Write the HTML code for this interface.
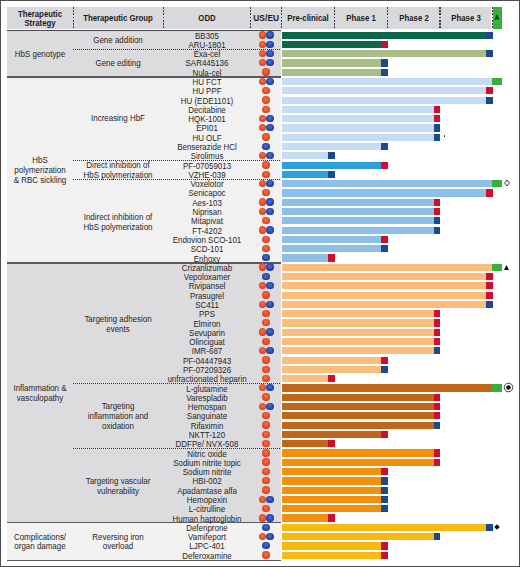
<!DOCTYPE html><html><head><meta charset="utf-8"><style>
*{margin:0;padding:0;box-sizing:border-box}
html,body{width:520px;height:567px;background:#fff;overflow:hidden}
body{position:relative;font-family:"Liberation Sans",sans-serif;color:#262626}
.t:not(.h){transform:scaleX(0.95)}
.a{position:absolute}
.t{position:absolute;white-space:nowrap;text-align:center;line-height:1}
.h{font-weight:bold;color:#1a1a1a;transform:scaleX(0.93)}
.dv{position:absolute;width:1.2px;background:repeating-linear-gradient(to bottom,#3a3a3a 0 1.7px,transparent 1.7px 3.25px)}
.dh{position:absolute;height:1.2px;background:repeating-linear-gradient(to right,#333 0 1px,transparent 1px 2px)}
.dot{position:absolute;width:7.3px;height:7.3px;border-radius:50%}
.R{background:radial-gradient(circle at 48% 42%,#f87048 0%,#ee5428 40%,#d83c1c 70%,#a82412 100%)}
.B{background:radial-gradient(circle at 48% 42%,#5070d0 0%,#3050b4 40%,#22389a 70%,#141c62 100%)}

</style></head><body>
<div class="a" style="left:0;top:0;width:520px;height:567px;border:1px solid #4d4d4d"></div>
<div class="a" style="left:7px;top:7px;width:484.4px;height:21.8px;background:#d9d8dc"></div>
<div class="a" style="left:492.5px;top:7px;width:9.800000000000011px;height:21.5px;background:#37b33a"></div>
<div class="dv" style="left:72.85px;top:7.1px;height:21.3px"></div>
<div class="dv" style="left:162.75px;top:7.1px;height:21.3px"></div>
<div class="dv" style="left:250.15px;top:7.1px;height:21.3px"></div>
<div class="dv" style="left:280.85px;top:7.1px;height:21.3px"></div>
<div class="dv" style="left:333.85px;top:7.1px;height:21.3px"></div>
<div class="dv" style="left:386.85px;top:7.1px;height:21.3px"></div>
<div class="dv" style="left:439.35px;top:7.1px;height:21.3px"></div>
<div class="dv" style="left:491.85px;top:7.1px;height:21.3px"></div>
<div class="t h" style="left:-59.6px;top:9.8px;width:200px;font-size:8.4px;">Therapeutic</div>
<div class="t h" style="left:-59.6px;top:18.900000000000002px;width:200px;font-size:8.4px;">Strategy</div>
<div class="t h" style="left:18.400000000000006px;top:14.100000000000001px;width:200px;font-size:8.4px;">Therapeutic Group</div>
<div class="t h" style="left:107.0px;top:14.100000000000001px;width:200px;font-size:8.4px;">ODD</div>
<div class="t h" style="left:166.2px;top:14.100000000000001px;width:200px;font-size:8.4px;transform:none;letter-spacing:0.1px">US/EU</div>
<div class="t h" style="left:208.0px;top:14.100000000000001px;width:200px;font-size:8.4px;">Pre-clinical</div>
<div class="t h" style="left:261.0px;top:14.100000000000001px;width:200px;font-size:8.4px;">Phase 1</div>
<div class="t h" style="left:313.8px;top:14.100000000000001px;width:200px;font-size:8.4px;">Phase 2</div>
<div class="t h" style="left:366.3px;top:14.100000000000001px;width:200px;font-size:8.4px;">Phase 3</div>
<div class="t h" style="left:397.2px;top:13.700000000000001px;width:200px;font-size:7.8px;transform:scaleX(0.85);color:#102a10">A</div>
<div class="a" style="left:7px;top:29.8px;width:274px;height:1.5px;background:#4a4a4a"></div>
<div class="a" style="left:7px;top:31.3px;width:274px;height:45.0px;background:#dcdbde"></div>
<div class="a" style="left:7px;top:77.6px;width:274px;height:184.29999999999998px;background:#f1f1f2"></div>
<div class="a" style="left:7px;top:263.4px;width:274px;height:258.6px;background:#dcdbde"></div>
<div class="a" style="left:7px;top:523.4px;width:274px;height:36.200000000000045px;background:#f2f2f2"></div>
<div class="a" style="left:7px;top:76.2px;width:274px;height:1.5px;background:#5a595c"></div>
<div class="a" style="left:7px;top:262.0px;width:274px;height:1.5px;background:#5a595c"></div>
<div class="a" style="left:7px;top:521.9px;width:274px;height:1.5px;background:#5a595c"></div>
<div class="a" style="left:7px;top:559.5px;width:274px;height:1.5px;background:#5a595c"></div>
<div class="dh" style="left:73px;top:48.9px;width:208px"></div>
<div class="dh" style="left:73px;top:159.8px;width:208px"></div>
<div class="dh" style="left:73px;top:178.6px;width:208px"></div>
<div class="dh" style="left:73px;top:383.29999999999995px;width:208px"></div>
<div class="dh" style="left:73px;top:448.29999999999995px;width:208px"></div>
<div class="t " style="left:-60.0px;top:50.0px;width:200px;font-size:8.4px;">HbS genotype</div>
<div class="t " style="left:-60.0px;top:156.4px;width:200px;font-size:8.4px;">HbS</div>
<div class="t " style="left:-60.0px;top:166.20000000000002px;width:200px;font-size:8.4px;">polymerization</div>
<div class="t " style="left:-60.0px;top:176.20000000000002px;width:200px;font-size:8.4px;">&amp; RBC sickling</div>
<div class="t " style="left:-60.0px;top:384.0px;width:200px;font-size:8.4px;">Inflammation &amp;</div>
<div class="t " style="left:-60.0px;top:393.8px;width:200px;font-size:8.4px;">vasculopathy</div>
<div class="t " style="left:-60.0px;top:532.5px;width:200px;font-size:8.4px;">Complications/</div>
<div class="t " style="left:-60.0px;top:542.3px;width:200px;font-size:8.4px;">organ damage</div>
<div class="t " style="left:18.400000000000006px;top:35.8px;width:200px;font-size:8.4px;">Gene addition</div>
<div class="t " style="left:18.400000000000006px;top:58.9px;width:200px;font-size:8.4px;">Gene editing</div>
<div class="t " style="left:18.400000000000006px;top:114.2px;width:200px;font-size:8.4px;">Increasing HbF</div>
<div class="t " style="left:18.400000000000006px;top:160.9px;width:200px;font-size:8.4px;">Direct inhibition of</div>
<div class="t " style="left:18.400000000000006px;top:170.9px;width:200px;font-size:8.4px;">HbS polymerization</div>
<div class="t " style="left:18.400000000000006px;top:212.8px;width:200px;font-size:8.4px;">Indirect inhibition of</div>
<div class="t " style="left:18.400000000000006px;top:222.8px;width:200px;font-size:8.4px;">HbS polymerization</div>
<div class="t " style="left:18.400000000000006px;top:314.8px;width:200px;font-size:8.4px;">Targeting adhesion</div>
<div class="t " style="left:18.400000000000006px;top:324.5px;width:200px;font-size:8.4px;">events</div>
<div class="t " style="left:18.400000000000006px;top:402.3px;width:200px;font-size:8.4px;">Targeting</div>
<div class="t " style="left:18.400000000000006px;top:412.0px;width:200px;font-size:8.4px;">inflammation and</div>
<div class="t " style="left:18.400000000000006px;top:421.7px;width:200px;font-size:8.4px;">oxidation</div>
<div class="t " style="left:18.400000000000006px;top:476.8px;width:200px;font-size:8.4px;">Targeting vascular</div>
<div class="t " style="left:18.400000000000006px;top:486.5px;width:200px;font-size:8.4px;">vulnerability</div>
<div class="t " style="left:18.400000000000006px;top:532.5px;width:200px;font-size:8.4px;">Reversing iron</div>
<div class="t " style="left:18.400000000000006px;top:542.3px;width:200px;font-size:8.4px;">overload</div>
<div class="t " style="left:107.0px;top:31.600000000000005px;width:200px;font-size:8.4px;">BB305</div>
<div class="dot R" style="left:258.55px;top:31.250000000000004px"></div>
<div class="dot B" style="left:266.35px;top:31.250000000000004px"></div>
<div class="a" style="left:282.0px;top:31.5px;width:204.15000000000003px;height:7.2px;background:#0b684b"></div>
<div class="a" style="left:486.40000000000003px;top:31.5px;width:6.399999999999977px;height:7.2px;background:#1a4a8c"></div>
<div class="t " style="left:107.0px;top:40.888px;width:200px;font-size:8.4px;">ARU-1801</div>
<div class="dot R" style="left:258.55px;top:40.538px"></div>
<div class="dot B" style="left:266.35px;top:40.538px"></div>
<div class="a" style="left:282.0px;top:40.788px;width:98.95000000000005px;height:7.2px;background:#0b684b"></div>
<div class="a" style="left:381.20000000000005px;top:40.788px;width:6.399999999999977px;height:7.2px;background:#d20c2c"></div>
<div class="t " style="left:107.0px;top:50.176px;width:200px;font-size:8.4px;">Exa-cel</div>
<div class="dot R" style="left:258.55px;top:49.826px"></div>
<div class="dot B" style="left:266.35px;top:49.826px"></div>
<div class="a" style="left:282.0px;top:50.076px;width:204.15000000000003px;height:7.2px;background:#a9bb86"></div>
<div class="a" style="left:486.40000000000003px;top:50.076px;width:6.399999999999977px;height:7.2px;background:#1a4a8c"></div>
<div class="t " style="left:107.0px;top:59.464000000000006px;width:200px;font-size:8.4px;">SAR445136</div>
<div class="dot R" style="left:258.55px;top:59.114000000000004px"></div>
<div class="dot B" style="left:266.35px;top:59.114000000000004px"></div>
<div class="a" style="left:282.0px;top:59.364000000000004px;width:98.95000000000005px;height:7.2px;background:#a9bb86"></div>
<div class="a" style="left:381.20000000000005px;top:59.364000000000004px;width:6.399999999999977px;height:7.2px;background:#1a4a8c"></div>
<div class="t " style="left:107.0px;top:68.752px;width:200px;font-size:8.4px;">Nula-cel</div>
<div class="dot R" style="left:262.25px;top:68.40199999999999px"></div>
<div class="a" style="left:282.0px;top:68.652px;width:98.95000000000005px;height:7.2px;background:#a9bb86"></div>
<div class="a" style="left:381.20000000000005px;top:68.652px;width:6.399999999999977px;height:7.2px;background:#1a4a8c"></div>
<div class="t " style="left:107.0px;top:78.03999999999999px;width:200px;font-size:8.4px;">HU FCT</div>
<div class="dot R" style="left:258.55px;top:77.68999999999998px"></div>
<div class="dot B" style="left:266.35px;top:77.68999999999998px"></div>
<div class="a" style="left:282.0px;top:77.94px;width:209.8px;height:7.2px;background:#c5dcf2"></div>
<div class="a" style="left:492.4px;top:77.94px;width:9.900000000000034px;height:7.2px;background:#3aae3a"></div>
<div class="t " style="left:107.0px;top:87.328px;width:200px;font-size:8.4px;">HU PPF</div>
<div class="dot R" style="left:262.25px;top:86.978px"></div>
<div class="a" style="left:282.0px;top:87.22800000000001px;width:204.15000000000003px;height:7.2px;background:#c5dcf2"></div>
<div class="a" style="left:486.40000000000003px;top:87.22800000000001px;width:6.399999999999977px;height:7.2px;background:#d20c2c"></div>
<div class="t " style="left:107.0px;top:96.616px;width:200px;font-size:8.4px;">HU (EDE1101)</div>
<div class="dot R" style="left:262.25px;top:96.26599999999999px"></div>
<div class="a" style="left:282.0px;top:96.516px;width:204.15000000000003px;height:7.2px;background:#c5dcf2"></div>
<div class="a" style="left:486.40000000000003px;top:96.516px;width:6.399999999999977px;height:7.2px;background:#1a4a8c"></div>
<div class="t " style="left:107.0px;top:105.904px;width:200px;font-size:8.4px;">Decitabine</div>
<div class="dot R" style="left:262.25px;top:105.55399999999999px"></div>
<div class="a" style="left:282.0px;top:105.804px;width:151.55px;height:7.2px;background:#c5dcf2"></div>
<div class="a" style="left:433.8px;top:105.804px;width:6.399999999999977px;height:7.2px;background:#d20c2c"></div>
<div class="t " style="left:107.0px;top:115.192px;width:200px;font-size:8.4px;">HQK-1001</div>
<div class="dot R" style="left:258.55px;top:114.84199999999998px"></div>
<div class="dot B" style="left:266.35px;top:114.84199999999998px"></div>
<div class="a" style="left:282.0px;top:115.092px;width:151.55px;height:7.2px;background:#c5dcf2"></div>
<div class="a" style="left:433.8px;top:115.092px;width:6.399999999999977px;height:7.2px;background:#d20c2c"></div>
<div class="t " style="left:107.0px;top:124.47999999999998px;width:200px;font-size:8.4px;">EPI01</div>
<div class="dot R" style="left:258.55px;top:124.12999999999998px"></div>
<div class="dot B" style="left:266.35px;top:124.12999999999998px"></div>
<div class="a" style="left:282.0px;top:124.38px;width:151.55px;height:7.2px;background:#c5dcf2"></div>
<div class="a" style="left:433.8px;top:124.38px;width:6.399999999999977px;height:7.2px;background:#1a4a8c"></div>
<div class="t " style="left:107.0px;top:133.768px;width:200px;font-size:8.4px;">HU OLF</div>
<div class="dot R" style="left:262.25px;top:133.418px"></div>
<div class="a" style="left:282.0px;top:133.668px;width:151.55px;height:7.2px;background:#c5dcf2"></div>
<div class="a" style="left:433.8px;top:133.668px;width:6.399999999999977px;height:7.2px;background:#1a4a8c"></div>
<div class="a" style="left:443.70000000000005px;top:135.268px;width:1.8px;height:1.8px;border-radius:50%;background:#222"></div>
<div class="t " style="left:107.0px;top:143.056px;width:200px;font-size:8.4px;">Benserazide HCl</div>
<div class="dot B" style="left:262.25px;top:142.70600000000002px"></div>
<div class="a" style="left:282.0px;top:142.95600000000002px;width:98.95000000000005px;height:7.2px;background:#c5dcf2"></div>
<div class="a" style="left:381.20000000000005px;top:142.95600000000002px;width:6.399999999999977px;height:7.2px;background:#1a4a8c"></div>
<div class="t " style="left:107.0px;top:152.344px;width:200px;font-size:8.4px;">Sirolimus</div>
<div class="dot R" style="left:258.55px;top:151.994px"></div>
<div class="dot B" style="left:266.35px;top:151.994px"></div>
<div class="a" style="left:282.0px;top:152.244px;width:45.950000000000045px;height:7.2px;background:#c5dcf2"></div>
<div class="a" style="left:328.20000000000005px;top:152.244px;width:6.399999999999977px;height:7.2px;background:#1a4a8c"></div>
<div class="t " style="left:107.0px;top:161.632px;width:200px;font-size:8.4px;">PF-07059013</div>
<div class="dot R" style="left:262.25px;top:161.282px"></div>
<div class="a" style="left:282.0px;top:161.532px;width:98.95000000000005px;height:7.2px;background:#2f9fdc"></div>
<div class="a" style="left:381.20000000000005px;top:161.532px;width:6.399999999999977px;height:7.2px;background:#d20c2c"></div>
<div class="t " style="left:107.0px;top:170.92px;width:200px;font-size:8.4px;">VZHE-039</div>
<div class="dot R" style="left:262.25px;top:170.57px"></div>
<div class="a" style="left:282.0px;top:170.82px;width:45.950000000000045px;height:7.2px;background:#2f9fdc"></div>
<div class="a" style="left:328.20000000000005px;top:170.82px;width:6.399999999999977px;height:7.2px;background:#1a4a8c"></div>
<div class="t " style="left:107.0px;top:180.208px;width:200px;font-size:8.4px;">Voxelotor</div>
<div class="dot R" style="left:258.55px;top:179.858px"></div>
<div class="dot B" style="left:266.35px;top:179.858px"></div>
<div class="a" style="left:282.0px;top:180.108px;width:209.8px;height:7.2px;background:#8cc0e9"></div>
<div class="a" style="left:492.4px;top:180.108px;width:9.900000000000034px;height:7.2px;background:#3aae3a"></div>
<svg class="a" style="left:503.4px;top:179.008px" width="8" height="8" viewBox="0 0 8 8"><path d="M4 1 L6.3 4 L4 7 L1.7 4 Z" fill="none" stroke="#222" stroke-width="0.9"/></svg>
<div class="t " style="left:107.0px;top:189.496px;width:200px;font-size:8.4px;">Senicapoc</div>
<div class="dot R" style="left:262.25px;top:189.14600000000002px"></div>
<div class="a" style="left:282.0px;top:189.39600000000002px;width:204.15000000000003px;height:7.2px;background:#8cc0e9"></div>
<div class="a" style="left:486.40000000000003px;top:189.39600000000002px;width:6.399999999999977px;height:7.2px;background:#d20c2c"></div>
<div class="t " style="left:107.0px;top:198.784px;width:200px;font-size:8.4px;">Aes-103</div>
<div class="dot R" style="left:258.55px;top:198.434px"></div>
<div class="dot B" style="left:266.35px;top:198.434px"></div>
<div class="a" style="left:282.0px;top:198.684px;width:151.55px;height:7.2px;background:#8cc0e9"></div>
<div class="a" style="left:433.8px;top:198.684px;width:6.399999999999977px;height:7.2px;background:#d20c2c"></div>
<div class="t " style="left:107.0px;top:208.072px;width:200px;font-size:8.4px;">Niprisan</div>
<div class="dot R" style="left:258.55px;top:207.722px"></div>
<div class="dot B" style="left:266.35px;top:207.722px"></div>
<div class="a" style="left:282.0px;top:207.972px;width:151.55px;height:7.2px;background:#8cc0e9"></div>
<div class="a" style="left:433.8px;top:207.972px;width:6.399999999999977px;height:7.2px;background:#d20c2c"></div>
<div class="t " style="left:107.0px;top:217.35999999999999px;width:200px;font-size:8.4px;">Mitapivat</div>
<div class="dot R" style="left:262.25px;top:217.01px"></div>
<div class="a" style="left:282.0px;top:217.26px;width:151.55px;height:7.2px;background:#8cc0e9"></div>
<div class="a" style="left:433.8px;top:217.26px;width:6.399999999999977px;height:7.2px;background:#1a4a8c"></div>
<div class="t " style="left:107.0px;top:226.648px;width:200px;font-size:8.4px;">FT-4202</div>
<div class="dot R" style="left:258.55px;top:226.298px"></div>
<div class="dot B" style="left:266.35px;top:226.298px"></div>
<div class="a" style="left:282.0px;top:226.548px;width:151.55px;height:7.2px;background:#8cc0e9"></div>
<div class="a" style="left:433.8px;top:226.548px;width:6.399999999999977px;height:7.2px;background:#1a4a8c"></div>
<div class="t " style="left:107.0px;top:235.936px;width:200px;font-size:8.4px;">Endovion SCO-101</div>
<div class="dot R" style="left:262.25px;top:235.586px"></div>
<div class="a" style="left:282.0px;top:235.836px;width:98.95000000000005px;height:7.2px;background:#8cc0e9"></div>
<div class="a" style="left:381.20000000000005px;top:235.836px;width:6.399999999999977px;height:7.2px;background:#d20c2c"></div>
<div class="t " style="left:107.0px;top:245.224px;width:200px;font-size:8.4px;">SCD-101</div>
<div class="dot R" style="left:262.25px;top:244.874px"></div>
<div class="a" style="left:282.0px;top:245.124px;width:98.95000000000005px;height:7.2px;background:#8cc0e9"></div>
<div class="a" style="left:381.20000000000005px;top:245.124px;width:6.399999999999977px;height:7.2px;background:#1a4a8c"></div>
<div class="t " style="left:107.0px;top:254.512px;width:200px;font-size:8.4px;">Enhoxy</div>
<div class="dot B" style="left:262.25px;top:254.162px"></div>
<div class="a" style="left:282.0px;top:254.412px;width:45.950000000000045px;height:7.2px;background:#8cc0e9"></div>
<div class="a" style="left:328.20000000000005px;top:254.412px;width:6.399999999999977px;height:7.2px;background:#d20c2c"></div>
<div class="t " style="left:107.0px;top:263.80000000000007px;width:200px;font-size:8.4px;">Crizanlizumab</div>
<div class="dot R" style="left:258.55px;top:263.4500000000001px"></div>
<div class="dot B" style="left:266.35px;top:263.4500000000001px"></div>
<div class="a" style="left:282.0px;top:263.70000000000005px;width:209.8px;height:7.2px;background:#f9bd7d"></div>
<div class="a" style="left:492.4px;top:263.70000000000005px;width:9.900000000000034px;height:7.2px;background:#3aae3a"></div>
<svg class="a" style="left:502.6px;top:263.6000000000001px" width="7" height="7" viewBox="0 0 7 7"><path d="M3.5 1 L6 6 L1 6 Z" fill="#111"/></svg>
<div class="t " style="left:107.0px;top:273.088px;width:200px;font-size:8.4px;">Vepoloxamer</div>
<div class="dot B" style="left:262.25px;top:272.73800000000006px"></div>
<div class="a" style="left:282.0px;top:272.988px;width:204.15000000000003px;height:7.2px;background:#f9bd7d"></div>
<div class="a" style="left:486.40000000000003px;top:272.988px;width:6.399999999999977px;height:7.2px;background:#d20c2c"></div>
<div class="t " style="left:107.0px;top:282.37600000000003px;width:200px;font-size:8.4px;">Rivipansel</div>
<div class="dot R" style="left:258.55px;top:282.02600000000007px"></div>
<div class="dot B" style="left:266.35px;top:282.02600000000007px"></div>
<div class="a" style="left:282.0px;top:282.276px;width:204.15000000000003px;height:7.2px;background:#f9bd7d"></div>
<div class="a" style="left:486.40000000000003px;top:282.276px;width:6.399999999999977px;height:7.2px;background:#d20c2c"></div>
<div class="t " style="left:107.0px;top:291.66400000000004px;width:200px;font-size:8.4px;">Prasugrel</div>
<div class="dot R" style="left:262.25px;top:291.3140000000001px"></div>
<div class="a" style="left:282.0px;top:291.564px;width:204.15000000000003px;height:7.2px;background:#f9bd7d"></div>
<div class="a" style="left:486.40000000000003px;top:291.564px;width:6.399999999999977px;height:7.2px;background:#d20c2c"></div>
<div class="t " style="left:107.0px;top:300.95200000000006px;width:200px;font-size:8.4px;">SC411</div>
<div class="dot R" style="left:258.55px;top:300.6020000000001px"></div>
<div class="dot B" style="left:266.35px;top:300.6020000000001px"></div>
<div class="a" style="left:282.0px;top:300.85200000000003px;width:204.15000000000003px;height:7.2px;background:#f9bd7d"></div>
<div class="a" style="left:486.40000000000003px;top:300.85200000000003px;width:6.399999999999977px;height:7.2px;background:#1a4a8c"></div>
<div class="t " style="left:107.0px;top:310.24px;width:200px;font-size:8.4px;">PPS</div>
<div class="dot R" style="left:262.25px;top:309.89000000000004px"></div>
<div class="a" style="left:282.0px;top:310.14px;width:151.55px;height:7.2px;background:#f9bd7d"></div>
<div class="a" style="left:433.8px;top:310.14px;width:6.399999999999977px;height:7.2px;background:#d20c2c"></div>
<div class="t " style="left:107.0px;top:319.528px;width:200px;font-size:8.4px;">Elmiron</div>
<div class="dot R" style="left:262.25px;top:319.17800000000005px"></div>
<div class="a" style="left:282.0px;top:319.428px;width:151.55px;height:7.2px;background:#f9bd7d"></div>
<div class="a" style="left:433.8px;top:319.428px;width:6.399999999999977px;height:7.2px;background:#d20c2c"></div>
<div class="t " style="left:107.0px;top:328.81600000000003px;width:200px;font-size:8.4px;">Sevuparin</div>
<div class="dot R" style="left:258.55px;top:328.46600000000007px"></div>
<div class="dot B" style="left:266.35px;top:328.46600000000007px"></div>
<div class="a" style="left:282.0px;top:328.716px;width:151.55px;height:7.2px;background:#f9bd7d"></div>
<div class="a" style="left:433.8px;top:328.716px;width:6.399999999999977px;height:7.2px;background:#d20c2c"></div>
<div class="t " style="left:107.0px;top:338.10400000000004px;width:200px;font-size:8.4px;">Olinciguat</div>
<div class="dot R" style="left:262.25px;top:337.7540000000001px"></div>
<div class="a" style="left:282.0px;top:338.004px;width:151.55px;height:7.2px;background:#f9bd7d"></div>
<div class="a" style="left:433.8px;top:338.004px;width:6.399999999999977px;height:7.2px;background:#d20c2c"></div>
<div class="t " style="left:107.0px;top:347.39200000000005px;width:200px;font-size:8.4px;">IMR-687</div>
<div class="dot R" style="left:258.55px;top:347.0420000000001px"></div>
<div class="dot B" style="left:266.35px;top:347.0420000000001px"></div>
<div class="a" style="left:282.0px;top:347.29200000000003px;width:151.55px;height:7.2px;background:#f9bd7d"></div>
<div class="a" style="left:433.8px;top:347.29200000000003px;width:6.399999999999977px;height:7.2px;background:#1a4a8c"></div>
<div class="t " style="left:107.0px;top:356.68px;width:200px;font-size:8.4px;">PF-04447943</div>
<div class="dot R" style="left:262.25px;top:356.33000000000004px"></div>
<div class="a" style="left:282.0px;top:356.58px;width:98.95000000000005px;height:7.2px;background:#f9bd7d"></div>
<div class="a" style="left:381.20000000000005px;top:356.58px;width:6.399999999999977px;height:7.2px;background:#d20c2c"></div>
<div class="t " style="left:107.0px;top:365.968px;width:200px;font-size:8.4px;">PF-07209326</div>
<div class="dot R" style="left:262.25px;top:365.61800000000005px"></div>
<div class="a" style="left:282.0px;top:365.868px;width:98.95000000000005px;height:7.2px;background:#f9bd7d"></div>
<div class="a" style="left:381.20000000000005px;top:365.868px;width:6.399999999999977px;height:7.2px;background:#1a4a8c"></div>
<div class="t " style="left:107.0px;top:375.25600000000003px;width:200px;font-size:8.4px;">unfractionated heparin</div>
<div class="dot R" style="left:262.25px;top:374.90600000000006px"></div>
<div class="a" style="left:282.0px;top:375.156px;width:45.950000000000045px;height:7.2px;background:#f9bd7d"></div>
<div class="a" style="left:328.20000000000005px;top:375.156px;width:6.399999999999977px;height:7.2px;background:#d20c2c"></div>
<div class="t " style="left:107.0px;top:384.54400000000004px;width:200px;font-size:8.4px;">L-glutamine</div>
<div class="dot R" style="left:258.55px;top:384.1940000000001px"></div>
<div class="dot B" style="left:266.35px;top:384.1940000000001px"></div>
<div class="a" style="left:282.0px;top:384.444px;width:209.8px;height:7.2px;background:#c0661b"></div>
<div class="a" style="left:492.4px;top:384.444px;width:9.900000000000034px;height:7.2px;background:#3aae3a"></div>
<svg class="a" style="left:503.1px;top:382.14400000000006px" width="11" height="11" viewBox="0 0 11 11"><circle cx="5.5" cy="5.5" r="4.3" fill="#fff" stroke="#1a1a1a" stroke-width="0.85"/><circle cx="5.5" cy="5.5" r="2.3" fill="#111"/></svg>
<div class="t " style="left:107.0px;top:393.83200000000005px;width:200px;font-size:8.4px;">Varespladib</div>
<div class="dot R" style="left:262.25px;top:393.4820000000001px"></div>
<div class="a" style="left:282.0px;top:393.732px;width:151.55px;height:7.2px;background:#c0661b"></div>
<div class="a" style="left:433.8px;top:393.732px;width:6.399999999999977px;height:7.2px;background:#d20c2c"></div>
<div class="t " style="left:107.0px;top:403.12px;width:200px;font-size:8.4px;">Hemospan</div>
<div class="dot R" style="left:258.55px;top:402.77000000000004px"></div>
<div class="dot B" style="left:266.35px;top:402.77000000000004px"></div>
<div class="a" style="left:282.0px;top:403.02px;width:151.55px;height:7.2px;background:#c0661b"></div>
<div class="a" style="left:433.8px;top:403.02px;width:6.399999999999977px;height:7.2px;background:#d20c2c"></div>
<div class="t " style="left:107.0px;top:412.408px;width:200px;font-size:8.4px;">Sanguinate</div>
<div class="dot R" style="left:262.25px;top:412.05800000000005px"></div>
<div class="a" style="left:282.0px;top:412.308px;width:151.55px;height:7.2px;background:#c0661b"></div>
<div class="a" style="left:433.8px;top:412.308px;width:6.399999999999977px;height:7.2px;background:#d20c2c"></div>
<div class="t " style="left:107.0px;top:421.696px;width:200px;font-size:8.4px;">Rifaximin</div>
<div class="dot R" style="left:262.25px;top:421.34600000000006px"></div>
<div class="a" style="left:282.0px;top:421.596px;width:151.55px;height:7.2px;background:#c0661b"></div>
<div class="a" style="left:433.8px;top:421.596px;width:6.399999999999977px;height:7.2px;background:#1a4a8c"></div>
<div class="t " style="left:107.0px;top:430.98400000000004px;width:200px;font-size:8.4px;">NKTT-120</div>
<div class="dot R" style="left:262.25px;top:430.63400000000007px"></div>
<div class="a" style="left:282.0px;top:430.884px;width:98.95000000000005px;height:7.2px;background:#c0661b"></div>
<div class="a" style="left:381.20000000000005px;top:430.884px;width:6.399999999999977px;height:7.2px;background:#d20c2c"></div>
<div class="t " style="left:107.0px;top:440.27200000000005px;width:200px;font-size:8.4px;">DDFPe/ NVX-508</div>
<div class="dot R" style="left:262.25px;top:439.9220000000001px"></div>
<div class="a" style="left:282.0px;top:440.172px;width:45.950000000000045px;height:7.2px;background:#c0661b"></div>
<div class="a" style="left:328.20000000000005px;top:440.172px;width:6.399999999999977px;height:7.2px;background:#d20c2c"></div>
<div class="t " style="left:107.0px;top:449.56000000000006px;width:200px;font-size:8.4px;">Nitric oxide</div>
<div class="dot R" style="left:262.25px;top:449.2100000000001px"></div>
<div class="a" style="left:282.0px;top:449.46000000000004px;width:151.55px;height:7.2px;background:#f0900c"></div>
<div class="a" style="left:433.8px;top:449.46000000000004px;width:6.399999999999977px;height:7.2px;background:#d20c2c"></div>
<div class="t " style="left:107.0px;top:458.848px;width:200px;font-size:8.4px;">Sodium nitrite topic</div>
<div class="dot R" style="left:262.25px;top:458.49800000000005px"></div>
<div class="a" style="left:282.0px;top:458.748px;width:151.55px;height:7.2px;background:#f0900c"></div>
<div class="a" style="left:433.8px;top:458.748px;width:6.399999999999977px;height:7.2px;background:#d20c2c"></div>
<div class="t " style="left:107.0px;top:468.136px;width:200px;font-size:8.4px;">Sodium nitrite</div>
<div class="dot R" style="left:262.25px;top:467.78600000000006px"></div>
<div class="a" style="left:282.0px;top:468.036px;width:98.95000000000005px;height:7.2px;background:#f0900c"></div>
<div class="a" style="left:381.20000000000005px;top:468.036px;width:6.399999999999977px;height:7.2px;background:#d20c2c"></div>
<div class="t " style="left:107.0px;top:477.42400000000004px;width:200px;font-size:8.4px;">HBI-002</div>
<div class="dot R" style="left:262.25px;top:477.07400000000007px"></div>
<div class="a" style="left:282.0px;top:477.324px;width:98.95000000000005px;height:7.2px;background:#f0900c"></div>
<div class="a" style="left:381.20000000000005px;top:477.324px;width:6.399999999999977px;height:7.2px;background:#1a4a8c"></div>
<div class="t " style="left:107.0px;top:486.71200000000005px;width:200px;font-size:8.4px;">Apadamtase alfa</div>
<div class="dot R" style="left:262.25px;top:486.3620000000001px"></div>
<div class="a" style="left:282.0px;top:486.612px;width:98.95000000000005px;height:7.2px;background:#f0900c"></div>
<div class="a" style="left:381.20000000000005px;top:486.612px;width:6.399999999999977px;height:7.2px;background:#1a4a8c"></div>
<div class="t " style="left:107.0px;top:496.00000000000006px;width:200px;font-size:8.4px;">Hemopexin</div>
<div class="dot R" style="left:258.55px;top:495.6500000000001px"></div>
<div class="dot B" style="left:266.35px;top:495.6500000000001px"></div>
<div class="a" style="left:282.0px;top:495.90000000000003px;width:98.95000000000005px;height:7.2px;background:#f0900c"></div>
<div class="a" style="left:381.20000000000005px;top:495.90000000000003px;width:6.399999999999977px;height:7.2px;background:#1a4a8c"></div>
<div class="t " style="left:107.0px;top:505.288px;width:200px;font-size:8.4px;">L-citrulline</div>
<div class="dot R" style="left:262.25px;top:504.93800000000005px"></div>
<div class="a" style="left:282.0px;top:505.188px;width:98.95000000000005px;height:7.2px;background:#f0900c"></div>
<div class="a" style="left:381.20000000000005px;top:505.188px;width:6.399999999999977px;height:7.2px;background:#1a4a8c"></div>
<div class="t " style="left:107.0px;top:514.576px;width:200px;font-size:8.4px;">Human haptoglobin</div>
<div class="dot R" style="left:258.55px;top:514.226px"></div>
<div class="dot B" style="left:266.35px;top:514.226px"></div>
<div class="a" style="left:282.0px;top:514.476px;width:45.950000000000045px;height:7.2px;background:#f0900c"></div>
<div class="a" style="left:328.20000000000005px;top:514.476px;width:6.399999999999977px;height:7.2px;background:#d20c2c"></div>
<div class="t " style="left:107.0px;top:523.864px;width:200px;font-size:8.4px;">Deferiprone</div>
<div class="dot B" style="left:262.25px;top:523.514px"></div>
<div class="a" style="left:282.0px;top:523.764px;width:204.15000000000003px;height:7.2px;background:#f7ba12"></div>
<div class="a" style="left:486.40000000000003px;top:523.764px;width:6.399999999999977px;height:7.2px;background:#1a4a8c"></div>
<svg class="a" style="left:494.0px;top:524.364px" width="6" height="6" viewBox="0 0 6 6"><path d="M3 0.2 L5.8 3 L3 5.8 L0.2 3 Z" fill="#111"/></svg>
<div class="t " style="left:107.0px;top:533.152px;width:200px;font-size:8.4px;">Vamifeport</div>
<div class="dot R" style="left:258.55px;top:532.802px"></div>
<div class="dot B" style="left:266.35px;top:532.802px"></div>
<div class="a" style="left:282.0px;top:533.052px;width:151.55px;height:7.2px;background:#f7ba12"></div>
<div class="a" style="left:433.8px;top:533.052px;width:6.399999999999977px;height:7.2px;background:#1a4a8c"></div>
<div class="t " style="left:107.0px;top:542.44px;width:200px;font-size:8.4px;">LJPC-401</div>
<div class="dot B" style="left:262.25px;top:542.09px"></div>
<div class="a" style="left:282.0px;top:542.34px;width:98.95000000000005px;height:7.2px;background:#f7ba12"></div>
<div class="a" style="left:381.20000000000005px;top:542.34px;width:6.399999999999977px;height:7.2px;background:#d20c2c"></div>
<div class="t " style="left:107.0px;top:551.7280000000001px;width:200px;font-size:8.4px;">Deferoxamine</div>
<div class="dot R" style="left:262.25px;top:551.378px"></div>
<div class="a" style="left:282.0px;top:551.628px;width:98.95000000000005px;height:7.2px;background:#f7ba12"></div>
<div class="a" style="left:381.20000000000005px;top:551.628px;width:6.399999999999977px;height:7.2px;background:#d20c2c"></div>
</body></html>
